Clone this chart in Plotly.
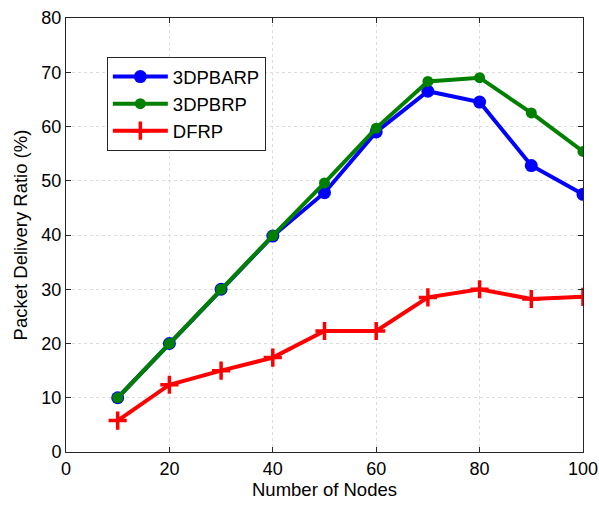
import plotly.graph_objects as go

nodes = [10, 20, 30, 40, 50, 60, 70, 80, 90, 100]
pdr_3dpbarp = [10.0, 20.0, 30.0, 39.8, 47.8, 59.0, 66.5, 64.5, 52.8, 47.5]
pdr_3dpbrp = [10.0, 20.0, 30.0, 39.9, 49.6, 59.7, 68.3, 69.0, 62.5, 55.4]
pdr_dfrp = [5.8, 12.4, 15.0, 17.4, 22.3, 22.3, 28.5, 30.0, 28.2, 28.6]

font = "Liberation Sans, Arial, sans-serif"

fig = go.Figure()
fig.add_trace(go.Scatter(x=nodes, y=pdr_3dpbarp, name="3DPBARP", mode="lines+markers",
                         line=dict(color="#0000ff", width=4),
                         marker=dict(symbol="circle", size=13, color="#0000ff")))
fig.add_trace(go.Scatter(x=nodes, y=pdr_3dpbrp, name="3DPBRP", mode="lines+markers",
                         line=dict(color="#008000", width=4),
                         marker=dict(symbol="circle", size=11, color="#008000")))
fig.add_trace(go.Scatter(x=nodes, y=pdr_dfrp, name="DFRP", mode="lines+markers",
                         line=dict(color="#ff0000", width=4),
                         marker=dict(symbol="cross-thin", size=13,
                                     line=dict(color="#ff0000", width=3.5))))

axis_common = dict(showline=True, linecolor="#262626", linewidth=1, mirror="ticks",
                   ticks="inside", ticklen=5, tickcolor="#262626",
                   showgrid=True, gridcolor="#dcdcdc", griddash="dot", gridwidth=1,
                   zeroline=False, automargin=False,
                   tickfont=dict(family=font, size=18, color="#000"),
                   title_font=dict(family=font, size=18.5, color="#000"))

fig.update_layout(
    width=599, height=505,
    margin=dict(l=66, r=16, t=18, b=53),
    paper_bgcolor="white", plot_bgcolor="white",
    xaxis=dict(range=[0, 100], dtick=20, title=dict(text="Number of Nodes", standoff=4), **axis_common),
    yaxis=dict(range=[0, 80], dtick=10, title=dict(text="Packet Delivery Ratio (%)", standoff=8), **axis_common),
    legend=dict(x=0.079, y=0.91, xanchor="left", yanchor="top",
                bgcolor="white", bordercolor="#262626", borderwidth=1,
                font=dict(family=font, size=18.5, color="#000"),
                itemwidth=55, tracegroupgap=0),
    showlegend=True,
)

fig.write_html("out.html")
